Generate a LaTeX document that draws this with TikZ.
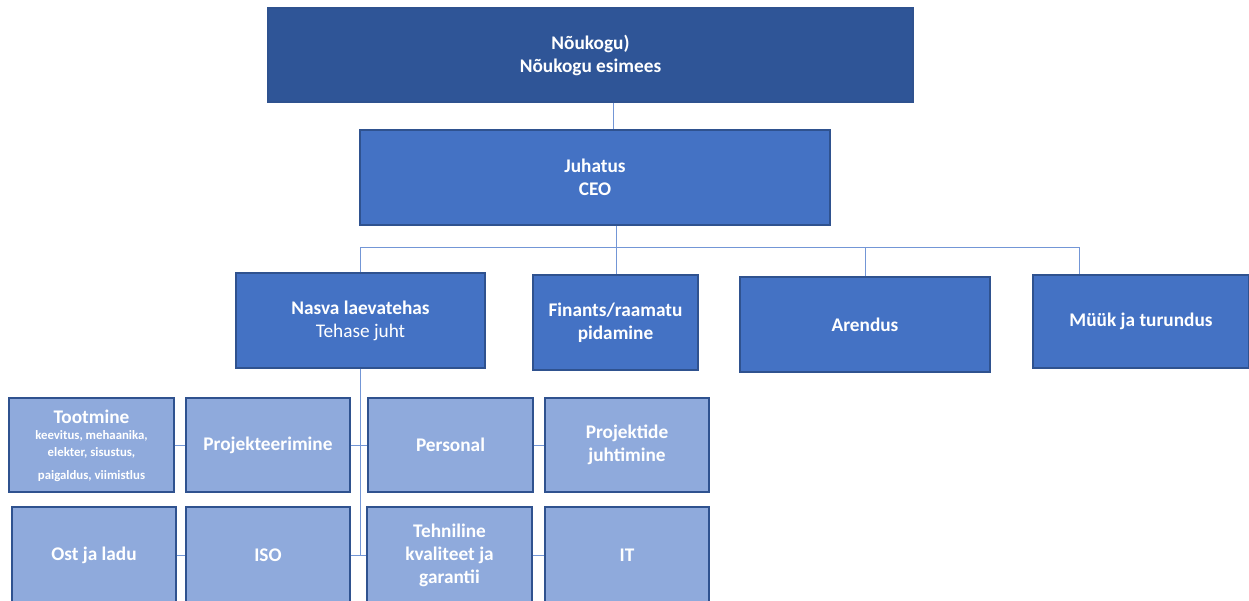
\documentclass[tikz,border=0pt]{standalone}
\usepackage{fontspec}
\setmainfont{Carlito}
\definecolor{boardblue}{HTML}{2F5597}
\definecolor{unitblue}{HTML}{4472C4}
\definecolor{deptblue}{HTML}{8FAADC}
\definecolor{edgeblue}{HTML}{2F528F}
\definecolor{linkblue}{HTML}{7396D6}
\newcommand{\smalltxt}{\fontsize{12.8}{16}\selectfont}
\begin{document}
\begin{tikzpicture}[
    x=1pt, y=-1pt,
    box/.style={rectangle, draw=edgeblue, line width=1.3pt, text=white, align=center, inner sep=0pt,
        font=\bfseries\fontsize{19.3}{23}\selectfont},
    board/.style={box, fill=boardblue},
    unit/.style={box, fill=unitblue},
    dept/.style={box, fill=deptblue},
    link/.style={draw=linkblue, line width=1pt}
]
    \useasboundingbox (0,0) rectangle (1249,600);
    \clip (0,0) rectangle (1249,600);

    % Board and management
    \node[board, minimum width=645, minimum height=94] (board) at (590.5,55) {Nõukogu)\\Nõukogu esimees};
    \node[unit, minimum width=470, minimum height=95] (ceo) at (595,177.5) {Juhatus\\CEO};

    % Second level
    \node[unit, minimum width=249, minimum height=95] (yard) at (360.5,320.5) {Nasva laevatehas\\{\mdseries Tehase juht}};
    \node[unit, minimum width=165, minimum height=95] (fin) at (615.5,322.5) {Finants/raamatu\\pidamine};
    \node[unit, minimum width=250, minimum height=95] (dev) at (865,324.5) {Arendus};
    \node[unit, minimum width=216, minimum height=93] (sales) at (1141,321.5) {Müük ja turundus};

    % Departments, first row
    \node[dept, minimum width=165, minimum height=94, text depth=-4pt] (prod) at (91.5,445) {Tootmine\\[-7pt]
        \smalltxt keevitus, mehaanika,\\[-6pt] \smalltxt elekter, sisustus,\\[0pt] \smalltxt paigaldus, viimistlus};
    \node[dept, minimum width=164, minimum height=94] (design) at (268,445) {Projekteerimine};
    \node[dept, minimum width=165, minimum height=94] (staff) at (450.5,445) {Personal};
    \node[dept, minimum width=164, minimum height=94] (pm) at (627,445) {Projektide\\juhtimine};

    % Departments, second row
    \node[dept, minimum width=164, minimum height=96] (stock) at (94,555) {Ost ja ladu};
    \node[dept, minimum width=164, minimum height=96] (iso) at (268,555) {ISO};
    \node[dept, minimum width=165, minimum height=96] (qa) at (449.5,555) {Tehniline\\kvaliteet ja\\garantii};
    \node[dept, minimum width=164, minimum height=96] (it) at (627,555) {IT};

    % Connectors
    \coordinate (bus) at (0,247);
    \draw[link] ([xshift=22.5pt]board.south) -- ([xshift=22.5pt]board.south |- ceo.north);
    \draw[link] ([xshift=21pt]ceo.south) -- ([xshift=21pt]ceo.south |- fin.north);
    \draw[link] (yard.north) |- ([xshift=-62pt]sales.north |- bus) -- ([xshift=-62pt]sales.north);
    \draw[link] (dev.north) -- (dev.north |- bus);
    \draw[link] (yard.south) -- (yard.south |- iso.east);

    \draw[link] (prod.east) -- (design.west);
    \draw[link] (design.east) -- (staff.west);
    \draw[link] (staff.east) -- (pm.west);
    \draw[link] (stock.east) -- (iso.west);
    \draw[link] (iso.east) -- (qa.west);
    \draw[link] (qa.east) -- (it.west);
\end{tikzpicture}
\end{document}
